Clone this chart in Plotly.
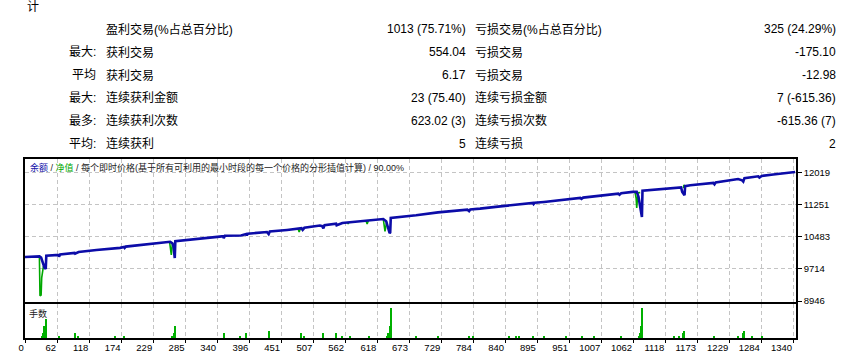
import plotly.graph_objects as go

# ---------------- data ----------------
row_prefix = ["", "最大:", "平均", "最大:", "最多:", "平均:"]
win_labels = ["盈利交易(%占总百分比)", "获利交易", "获利交易", "连续获利金额", "连续获利次数", "连续获利"]
win_values = ["1013 (75.71%)", "554.04", "6.17", "23 (75.40)", "623.02 (3)", "5"]
loss_labels = ["亏损交易(%占总百分比)", "亏损交易", "亏损交易", "连续亏损金额", "连续亏损次数", "连续亏损"]
loss_values = ["325 (24.29%)", "-175.10", "-12.98", "7 (-615.36)", "-615.36 (7)", "2"]

chart_title_parts = ["余额", "净值", "每个即时价格(基于所有可利用的最小时段的每一个价格的分形插值计算)", "90.00%"]
volume_label = "手数"

xtick_vals = [6, 62, 118, 174, 229, 285, 340, 396, 451, 507, 562, 618, 673, 729,
              784, 840, 895, 951, 1007, 1062, 1118, 1173, 1229, 1284, 1340]
xtick_text = ["0", "62", "118", "174", "229", "285", "340", "396", "451", "507", "562", "618", "673", "729",
              "784", "840", "895", "951", "1007", "1062", "1118", "1173", "1229", "1284", "1340"]
ytick_vals = [8946, 9714, 10483, 11251, 12019]

balance_trade = [6, 31, 34, 36, 38, 40, 42, 43,
                 64, 65, 67, 92, 93, 99, 130, 163, 164, 171, 178, 179, 181, 220,
                 258, 262, 264, 265, 266, 267, 300, 344, 350, 351, 353,
                 380, 381, 390, 391, 393, 426, 429, 431, 461, 486, 488, 491,
                 518, 522, 524, 526, 546, 547, 557, 570, 604,
                 628, 633, 635, 637, 639, 640, 641, 685, 714, 723,
                 774, 777, 779, 784, 796, 831, 846, 858, 864, 888, 889, 891, 907, 935, 945,
                 970, 972, 975, 994, 1017, 1036, 1038, 1041, 1061, 1068,
                 1071, 1073, 1075, 1077, 1078, 1131, 1133, 1145, 1147, 1149, 1151, 1152,
                 1161, 1201, 1203, 1205, 1244, 1251, 1253, 1255, 1269, 1279, 1281, 1285,
                 1305, 1343]
balance_value = [10000, 10015, 9985, 9900, 9800, 9740, 9716, 10030,
                 10050, 10010, 10060, 10100, 10080, 10120, 10170, 10210, 10195, 10220, 10240, 10220, 10250, 10300,
                 10365, 10330, 10250, 10100, 9975, 10380, 10420, 10490, 10500, 10450, 10510,
                 10530, 10515, 10550, 10520, 10560, 10600, 10550, 10610, 10650, 10690, 10650, 10700,
                 10755, 10740, 10690, 10765, 10800, 10760, 10815, 10830, 10875,
                 10912, 10860, 10760, 10640, 10575, 10590, 10936, 11000, 11056, 11070,
                 11135, 11100, 11140, 11145, 11160, 11215, 11240, 11255, 11265, 11297, 11270, 11300, 11320, 11359, 11375,
                 11417, 11395, 11425, 11455, 11489, 11520, 11495, 11530, 11561, 11565,
                 11450, 11250, 11050, 10960, 11593, 11658, 11660, 11670, 11560, 11500, 11480, 11700,
                 11720, 11778, 11745, 11785, 11870, 11840, 11810, 11890, 11920, 11935, 11905, 11945,
                 11978, 12038]

# equity shown only where it separates from the balance line (gaps = None)
equity_trade = [30, 31, 32, 34, 35, 36, 37, 38, None,
                257, 259, 260, 261, 262, None,
                480, 482, 484, None,
                566, 567, 568, None,
                598, 600, 602, None,
                628, 630, 631, 632, 634, None,
                1065, 1067, 1068, 1069, 1070, 1074, None,
                1149, 1150, 1151]
equity_value = [10015, 10015, 9073, 9090, 9500, 9572, 9700, 9780, None,
                10365, 10200, 10053, 10200, 10330, None,
                10680, 10600, 10680, None,
                10830, 10795, 10830, None,
                10870, 10790, 10870, None,
                10912, 10700, 10613, 10700, 10850, None,
                11561, 11400, 11176, 11300, 11540, 11545, None,
                11650, 11730, 11700]

vol_trade = [36, 38, 40, 42, 65, 93, 99, 163, 178, 262, 264, 266, 351, 380, 390, 430,
             486, 490, 524, 546, 557, 570, 604, 635, 637, 639, 641, 685, 723,
             777, 784, 846, 858, 864, 888, 907, 945, 974, 994, 1040,
             1072, 1074, 1076, 1078, 1133, 1142, 1149, 1151, 1203, 1244, 1252, 1254, 1269, 1285]
vol_lots = [0.1, 0.2, 0.5, 0.8, 0.1, 0.2, 0.1, 0.1, 0.1, 0.1, 0.2, 0.5, 0.2, 0.1, 0.2, 0.3,
            0.2, 0.1, 0.2, 0.2, 0.1, 0.1, 0.1, 0.1, 0.2, 0.5, 1.3, 0.1, 0.1,
            0.1, 0.1, 0.1, 0.1, 0.1, 0.1, 0.1, 0.1, 0.1, 0.1, 0.1,
            0.1, 0.2, 0.5, 1.3, 0.1, 0.1, 0.2, 0.3, 0.1, 0.1, 0.2, 0.3, 0.1, 0.1]

# ---------------- layout geometry ----------------
W, H = 851, 353
PL, PR, PT, PB = 25, 796, 159, 338
MAIN_BOTTOM, VOL_TOP = 302, 304
FONT = "Liberation Sans, Noto Sans CJK SC, sans-serif"
BLUE = "#0c0ca8"
GREEN = "#00a800"


def px_x(px):
    return (px - PL) / (PR - PL)


def px_y(py):
    return (PB - py) / (PB - PT)


fig = go.Figure()
fig.add_trace(go.Scatter(x=equity_trade, y=equity_value, mode="lines", connectgaps=False,
                         line=dict(color=GREEN, width=1.6), xaxis="x", yaxis="y", hoverinfo="skip"))
fig.add_trace(go.Scatter(x=balance_trade, y=balance_value, mode="lines",
                         line=dict(color=BLUE, width=2.6), xaxis="x", yaxis="y", hoverinfo="skip"))
fig.add_trace(go.Bar(x=vol_trade, y=vol_lots, width=2.1, marker=dict(color="#00b000", line=dict(width=0)),
                     xaxis="x2", yaxis="y2", hoverinfo="skip"))

grid = dict(showgrid=True, gridcolor="#c4c4c4", griddash="4px,3px", gridwidth=1)
frame = dict(showline=True, linecolor="black", linewidth=1.5, mirror=True, zeroline=False, automargin=False)
xrange = [6, 1344.5]

fig.update_layout(
    width=W, height=H, template="none",
    margin=dict(l=PL, r=W - PR, t=PT, b=H - PB, pad=0),
    paper_bgcolor="white", plot_bgcolor="white", showlegend=False, bargap=0,
    xaxis=dict(domain=[0, 1], range=xrange, anchor="y", tickvals=xtick_vals, showticklabels=False,
               ticks="", **grid, **frame),
    yaxis=dict(domain=[px_y(MAIN_BOTTOM), 1], range=[8922, 12350], anchor="x", side="right",
               tickvals=ytick_vals, ticktext=[str(v) for v in ytick_vals], ticks="outside", ticklen=4,
               tickcolor="black", tickwidth=1, tickfont=dict(family=FONT, size=9.5, color="black"),
               **grid, **frame),
    xaxis2=dict(domain=[0, 1], range=xrange, anchor="y2", tickvals=xtick_vals, ticktext=xtick_text,
                ticks="outside", ticklen=3, tickcolor="black", ticklabelposition="outside left",
                tickfont=dict(family=FONT, size=9.5, color="black"), **grid, **frame),
    yaxis2=dict(domain=[0, px_y(VOL_TOP)], range=[0, 1.46], anchor="x2", showticklabels=False,
                ticks="", showgrid=False, **frame),
)

ann = []
ann.append(dict(text="计", x=px_x(25), y=px_y(6.5), xanchor="left", yanchor="middle"))
for i in range(6):
    yy = px_y(29.2 + i * 22.9)
    if row_prefix[i]:
        ann.append(dict(text=row_prefix[i], x=px_x(98), y=yy, xanchor="right", yanchor="middle"))
    ann.append(dict(text=win_labels[i], x=px_x(104), y=yy, xanchor="left", yanchor="middle"))
    ann.append(dict(text=win_values[i], x=px_x(468), y=yy, xanchor="right", yanchor="middle"))
    ann.append(dict(text=loss_labels[i], x=px_x(473), y=yy, xanchor="left", yanchor="middle"))
    ann.append(dict(text=loss_values[i], x=px_x(838), y=yy, xanchor="right", yanchor="middle"))
for a in ann:
    a.update(xref="paper", yref="paper", showarrow=False, font=dict(family=FONT, size=12, color="black"))

title_html = (f'<span style="color:{BLUE}">{chart_title_parts[0]}</span> / '
              f'<span style="color:{GREEN}">{chart_title_parts[1]}</span> / '
              f'{chart_title_parts[2]} / {chart_title_parts[3]}')
ann.append(dict(text=title_html, x=px_x(28), y=px_y(167.8), xref="paper", yref="paper", xanchor="left",
                yanchor="middle", showarrow=False, font=dict(family=FONT, size=9, color="#222222")))
ann.append(dict(text=volume_label, x=px_x(27), y=px_y(313.8), xref="paper", yref="paper", xanchor="left",
                yanchor="middle", showarrow=False, font=dict(family=FONT, size=9, color="#222222")))
fig.update_layout(annotations=ann)

fig.write_html("out.html")
